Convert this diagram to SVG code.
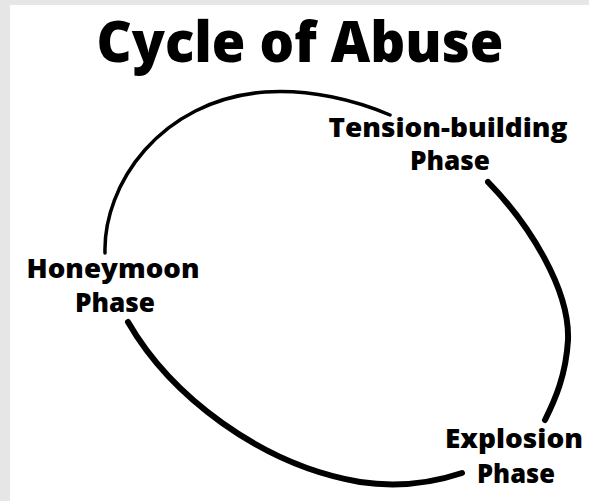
<svg xmlns="http://www.w3.org/2000/svg" width="589" height="501" viewBox="0 0 589 501">
<style>
.lbl{font-family:"Open Sans","DejaVu Sans",sans-serif;font-weight:800;fill:#000;text-anchor:middle}
.arc{fill:none;stroke:#000;stroke-linecap:round}
</style>
<rect x="0" y="0" width="589" height="501" fill="#e6e6e6"/>
<rect x="10" y="5" width="579" height="496" fill="#fff"/>
<text id="title" class="lbl" x="300" y="62" font-size="57" textLength="407" lengthAdjust="spacingAndGlyphs">Cycle of Abuse</text>
<g id="connectors">
<path class="arc" stroke-width="3.5" d="M105,253 C103,185 160,100 265,92 C310,89 355,100 390,115"/>
<path class="arc" stroke-width="6" d="M488,182 C530,225 570,290 568,340 C566,375 555,400 545,420"/>
<path class="arc" stroke-width="6" d="M128,322 C170,395 260,465 360,482 C400,488 435,482 462,473"/>
</g>
<g id="tension">
<text class="lbl" x="448" y="137" font-size="26" textLength="239" lengthAdjust="spacingAndGlyphs">Tension-building</text>
<text class="lbl" x="450" y="170" font-size="26" textLength="80" lengthAdjust="spacingAndGlyphs">Phase</text>
</g>
<g id="honeymoon">
<text class="lbl" x="113" y="278" font-size="26" textLength="173" lengthAdjust="spacingAndGlyphs">Honeymoon</text>
<text class="lbl" x="115" y="312" font-size="26" textLength="80" lengthAdjust="spacingAndGlyphs">Phase</text>
</g>
<g id="explosion">
<text class="lbl" x="514" y="448" font-size="26" textLength="138" lengthAdjust="spacingAndGlyphs">Explosion</text>
<text class="lbl" x="516" y="483" font-size="26" textLength="78" lengthAdjust="spacingAndGlyphs">Phase</text>
</g>
</svg>
